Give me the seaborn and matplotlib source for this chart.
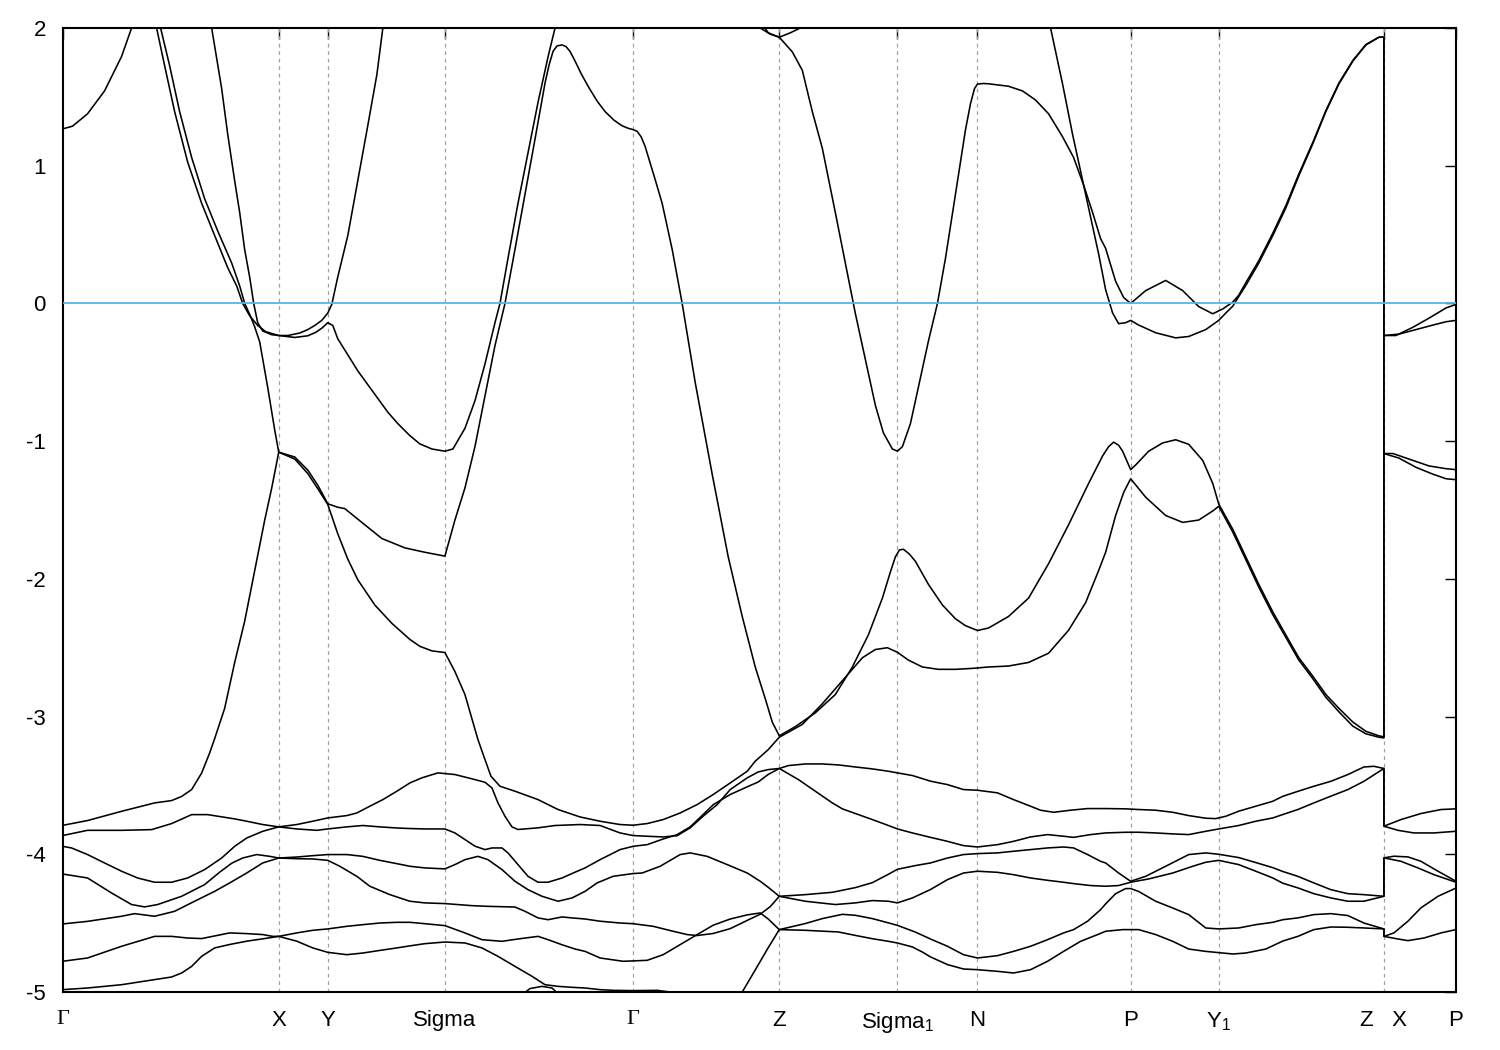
import matplotlib
matplotlib.use("Agg")
import matplotlib.pyplot as plt
import seaborn as sns
import numpy as np
import pandas as pd

# high-symmetry points along the k-path (path distance, arbitrary units)
k_ticks = [63, 279, 328, 445, 633, 779, 897, 977, 1130, 1218, 1383, 1455]
k_labels = ["Γ", "X", "Y", "Sigma", "Γ", "Z", "Sigma$_1$", "N", "P", "Y$_1$", "Z   X", "P"]
e_ticks = [2, 1, 0, -1, -2, -3, -4, -5]
e_fermi = 0.0

# bands: (k, E) pairs, E in eV
band_01 = [(63, 1.267), (73, 1.287), (88, 1.377), (105, 1.543), (122, 1.793), (132, 2.0), (144, 2.25),
           (157, 2.0), (165, 1.727), (175, 1.393), (188, 1.027), (202, 0.727), (215, 0.493), (228, 0.26),
           (237, 0.127), (243, 0.0), (250, -0.09), (258, -0.16), (266, -0.205), (279, -0.233), (288, -0.233),
           (300, -0.215), (308, -0.19), (315, -0.16), (322, -0.123), (328, -0.07), (332, -0.007), (338, 0.193),
           (348, 0.493), (358, 0.893), (368, 1.293), (377, 1.66), (383, 2.0), (386, 2.15)]

band_02 = [(161, 2.0), (170, 1.727), (180, 1.393), (192, 1.06), (205, 0.76), (218, 0.527), (232, 0.293),
           (240, 0.127), (245, 0.0), (250, -0.08), (255, -0.17), (260, -0.28), (268, -0.61), (275, -0.92),
           (279, -1.08), (295, -1.115), (308, -1.21), (318, -1.32), (328, -1.455), (338, -1.48), (345, -1.49),
           (362, -1.59), (382, -1.707), (405, -1.775), (425, -1.807), (445, -1.835), (455, -1.573), (465, -1.34),
           (475, -1.04), (485, -0.673), (495, -0.307), (505, 0.0), (515, 0.393), (525, 0.793), (535, 1.193),
           (545, 1.6), (549, 1.73), (553, 1.83), (557, 1.87), (562, 1.877), (566, 1.865), (570, 1.83),
           (575, 1.76), (581, 1.67), (588, 1.577), (597, 1.47), (605, 1.393), (614, 1.33), (622, 1.29),
           (628, 1.272), (633, 1.262), (637, 1.25), (641, 1.21), (645, 1.14), (650, 1.02), (655, 0.9),
           (662, 0.727), (672, 0.393), (682, 0.0), (695, -0.573), (712, -1.24), (728, -1.84), (742, -2.273),
           (755, -2.64), (765, -2.87), (772, -3.04), (779, -3.14), (795, -3.073),
           (815, -2.973), (835, -2.84), (852, -2.64), (868, -2.407), (882, -2.14), (890, -1.95), (895, -1.84),
           (899, -1.79), (903, -1.785), (909, -1.82), (915, -1.873), (928, -2.04), (942, -2.19), (955, -2.29),
           (965, -2.34), (977, -2.375), (988, -2.357), (1008, -2.273), (1028, -2.14), (1048, -1.89),
           (1068, -1.607), (1088, -1.307), (1102, -1.107), (1108, -1.04), (1113, -1.007), (1118, -1.03),
           (1122, -1.073), (1130, -1.207), (1135, -1.173), (1148, -1.073), (1162, -1.013), (1175, -0.99),
           (1188, -1.023), (1202, -1.14), (1212, -1.307), (1218, -1.457), (1232, -1.64), (1245, -1.84),
           (1258, -2.04), (1272, -2.24), (1285, -2.407), (1298, -2.573), (1312, -2.707), (1325, -2.84),
           (1338, -2.94), (1352, -3.04), (1365, -3.107), (1378, -3.14), (1383, -3.147),
           (1383, -0.233), (1398, -0.223), (1415, -0.19), (1432, -0.157), (1445, -0.133), (1455, -0.123)]

band_03 = [(63, -3.79), (88, -3.755), (122, -3.688), (155, -3.627), (172, -3.61), (182, -3.58), (192, -3.53),
           (202, -3.41), (210, -3.264), (215, -3.16), (225, -2.94), (235, -2.607), (245, -2.307), (255, -1.94),
           (265, -1.573), (272, -1.34), (279, -1.08), (295, -1.13), (308, -1.235), (318, -1.345), (328, -1.46),
           (338, -1.673), (348, -1.857), (358, -2.007), (375, -2.19), (392, -2.323), (410, -2.44), (420, -2.49),
           (432, -2.523), (445, -2.535), (455, -2.673), (465, -2.84), (478, -3.167), (485, -3.312),
           (491, -3.433), (500, -3.506), (515, -3.542), (538, -3.603), (558, -3.675), (580, -3.729),
           (600, -3.76), (620, -3.784), (633, -3.789), (647, -3.777), (663, -3.748), (680, -3.7), (697, -3.639),
           (713, -3.566), (730, -3.482), (747, -3.397), (755, -3.324), (768, -3.24), (779, -3.15),
           (802, -3.057), (822, -2.907), (842, -2.74), (862, -2.573), (875, -2.513), (887, -2.5), (897, -2.533),
           (908, -2.59), (922, -2.64), (938, -2.657), (955, -2.657), (972, -2.65), (988, -2.64), (1008, -2.633),
           (1028, -2.607), (1048, -2.54), (1068, -2.373), (1085, -2.173), (1098, -1.94), (1105, -1.807),
           (1115, -1.54), (1123, -1.373), (1130, -1.273), (1145, -1.407), (1165, -1.54), (1182, -1.59),
           (1198, -1.573), (1212, -1.507), (1218, -1.473), (1232, -1.66), (1245, -1.86), (1258, -2.06),
           (1272, -2.26), (1285, -2.425), (1298, -2.59), (1312, -2.725), (1325, -2.86), (1338, -2.965),
           (1352, -3.07), (1365, -3.125), (1378, -3.15), (1383, -3.155),
           (1383, -1.09), (1398, -1.123), (1415, -1.19), (1432, -1.24), (1445, -1.273), (1455, -1.28)]

band_04 = [(211, 2.05), (212, 2.0), (222, 1.56), (228, 1.23), (235, 0.89), (240, 0.66), (245, 0.39), (250, 0.19),
           (254, 0.0), (258, -0.14), (263, -0.2), (272, -0.227), (279, -0.233), (295, -0.247), (308, -0.235),
           (316, -0.21), (322, -0.18), (328, -0.14), (333, -0.16), (338, -0.257), (348, -0.373), (358, -0.49),
           (368, -0.59), (378, -0.69), (388, -0.79), (398, -0.873), (410, -0.96), (420, -1.02), (432, -1.057),
           (445, -1.073), (453, -1.057), (465, -0.907), (475, -0.707), (485, -0.44), (495, -0.14), (500, 0.0),
           (508, 0.327), (518, 0.727), (528, 1.093), (538, 1.46), (548, 1.79), (555, 2.0), (558, 2.12)]

band_05 = [(750, 2.15), (760, 2.0), (770, 1.955), (779, 1.933), (792, 1.827), (802, 1.693), (812, 1.393),
           (822, 1.127), (835, 0.66), (845, 0.293), (855, -0.073), (865, -0.407), (875, -0.74), (883, -0.94),
           (892, -1.057), (897, -1.073), (902, -1.04), (910, -0.873), (918, -0.607), (928, -0.273), (937, 0.0),
           (945, 0.327), (955, 0.793), (965, 1.26), (970, 1.45), (974, 1.56), (977, 1.593), (983, 1.597),
           (988, 1.595), (1008, 1.577),
           (1022, 1.543), (1035, 1.477), (1048, 1.377), (1062, 1.21), (1073, 1.06), (1083, 0.86), (1092, 0.66),
           (1100, 0.47), (1105, 0.4), (1110, 0.28), (1115, 0.16), (1123, 0.043), (1130, 0.0), (1145, 0.093),
           (1165, 0.167), (1182, 0.093), (1198, -0.023), (1212, -0.075), (1222, -0.04), (1232, 0.01),
           (1238, 0.06), (1245, 0.15), (1258, 0.31), (1272, 0.51), (1285, 0.71), (1298, 0.94), (1312, 1.17),
           (1325, 1.40), (1338, 1.60), (1352, 1.765), (1365, 1.88), (1378, 1.933), (1383, 1.935),
           (1383, -0.233), (1395, -0.233), (1412, -0.173), (1428, -0.107), (1445, -0.033), (1455, -0.007)]

band_06 = [(755, 2.1), (768, 1.965), (779, 1.933), (790, 1.965), (800, 2.0), (810, 2.12), (1040, 2.12),
           (1050, 2.0), (1062, 1.593), (1072, 1.227), (1078, 1.027), (1088, 0.693), (1098, 0.36), (1105, 0.1),
           (1112, -0.07), (1118, -0.147), (1125, -0.14), (1130, -0.123), (1138, -0.157), (1155, -0.213),
           (1175, -0.25), (1188, -0.24), (1205, -0.19), (1218, -0.123), (1225, -0.07), (1232, -0.02),
           (1238, 0.05), (1245, 0.13), (1258, 0.293), (1272, 0.493), (1285, 0.693), (1298, 0.927), (1312, 1.16),
           (1325, 1.393), (1338, 1.593), (1352, 1.76), (1365, 1.877), (1378, 1.933), (1383, 1.933),
           (1383, -1.09), (1392, -1.09), (1412, -1.14), (1428, -1.18), (1445, -1.2), (1455, -1.207)]

band_07 = [(63, -3.864), (88, -3.826), (122, -3.826), (152, -3.821), (172, -3.777), (192, -3.712), (208, -3.712),
           (235, -3.743), (247, -3.76), (263, -3.784), (279, -3.801), (297, -3.784), (313, -3.76), (328, -3.736),
           (347, -3.719), (357, -3.7), (370, -3.651), (383, -3.603), (397, -3.542), (410, -3.482), (422, -3.445),
           (438, -3.409), (455, -3.421), (472, -3.452), (485, -3.477), (492, -3.518), (498, -3.627),
           (505, -3.724), (512, -3.801), (518, -3.82), (538, -3.808), (555, -3.791), (580, -3.784),
           (600, -3.791), (620, -3.845), (633, -3.864), (647, -3.869), (663, -3.874), (677, -3.865),
           (690, -3.808), (703, -3.723), (717, -3.639), (730, -3.53), (747, -3.445), (758, -3.402),
           (768, -3.385), (779, -3.377), (788, -3.356), (805, -3.344), (822, -3.344), (838, -3.351),
           (855, -3.366), (872, -3.38), (888, -3.397), (897, -3.409), (912, -3.428), (930, -3.469),
           (947, -3.494), (963, -3.53), (977, -3.535), (997, -3.554), (1013, -3.603), (1030, -3.651),
           (1040, -3.68), (1053, -3.695), (1070, -3.68), (1087, -3.668), (1105, -3.668), (1125, -3.67),
           (1138, -3.675), (1155, -3.68), (1172, -3.695), (1188, -3.719), (1205, -3.738), (1215, -3.741),
           (1225, -3.724), (1238, -3.687), (1255, -3.651), (1272, -3.615), (1282, -3.579), (1297, -3.543),
           (1313, -3.506), (1330, -3.47), (1347, -3.421), (1363, -3.366), (1373, -3.361), (1383, -3.377),
           (1383, -3.796), (1400, -3.748), (1420, -3.704), (1440, -3.675), (1455, -3.67)]

band_08 = [(63, -3.942), (72, -3.954), (88, -4.002), (105, -4.063), (122, -4.123), (138, -4.172), (155, -4.203),
           (172, -4.203), (188, -4.172), (205, -4.111), (222, -4.027), (235, -3.942), (247, -3.882),
           (263, -3.833), (279, -3.801), (297, -3.816), (317, -3.826), (328, -3.816), (347, -3.801),
           (363, -3.791), (380, -3.801), (397, -3.809), (410, -3.813), (425, -3.816), (445, -3.816),
           (455, -3.845), (465, -3.893), (475, -3.941), (485, -3.966), (492, -3.954), (502, -3.954),
           (508, -3.99), (518, -4.075), (528, -4.16), (538, -4.203), (548, -4.203), (562, -4.172), (575, -4.13),
           (585, -4.099), (600, -4.039), (620, -3.966), (633, -3.942), (647, -3.93), (663, -3.889),
           (677, -3.857), (690, -3.801), (703, -3.711), (713, -3.64), (730, -3.566), (747, -3.51),
           (758, -3.475), (768, -3.42), (779, -3.377), (798, -3.457), (815, -3.542), (832, -3.627), (842, -3.67),
           (855, -3.704), (872, -3.748), (888, -3.791), (897, -3.816), (912, -3.845), (930, -3.877),
           (947, -3.906), (963, -3.937), (977, -3.947), (997, -3.93), (1013, -3.906), (1030, -3.874),
           (1047, -3.857), (1063, -3.869), (1073, -3.877), (1090, -3.857), (1105, -3.845), (1125, -3.84),
           (1138, -3.84), (1155, -3.845), (1172, -3.852), (1188, -3.857), (1205, -3.833), (1218, -3.816),
           (1238, -3.791), (1255, -3.76), (1272, -3.736), (1285, -3.704), (1297, -3.675), (1313, -3.627),
           (1330, -3.578), (1347, -3.53), (1363, -3.47), (1383, -3.377),
           (1383, -3.796), (1397, -3.826), (1413, -3.845), (1433, -3.845), (1455, -3.833)]

band_09 = [(63, -4.143), (88, -4.172), (112, -4.281), (132, -4.365), (145, -4.382), (158, -4.365), (182, -4.305),
           (205, -4.22), (220, -4.13), (232, -4.065), (243, -4.027), (257, -4.002), (270, -4.015), (279, -4.027),
           (297, -4.02), (313, -4.01), (328, -4.002), (347, -4.002), (363, -4.015), (380, -4.044), (397, -4.068),
           (410, -4.087), (425, -4.099), (445, -4.106), (455, -4.075), (465, -4.039), (478, -4.015),
           (488, -4.039), (502, -4.111), (515, -4.196), (528, -4.257), (542, -4.305), (558, -4.341),
           (572, -4.317), (585, -4.269), (597, -4.208), (613, -4.16), (633, -4.14), (642, -4.136), (660, -4.087),
           (680, -4.002), (690, -3.99), (707, -4.015), (727, -4.075), (747, -4.136), (760, -4.196), (768, -4.24),
           (779, -4.305), (805, -4.293), (832, -4.276), (855, -4.242), (872, -4.206), (888, -4.145),
           (897, -4.109), (915, -4.082), (930, -4.063), (947, -4.027), (963, -4.002), (977, -3.995),
           (997, -3.99), (1013, -3.978), (1030, -3.966), (1047, -3.954), (1063, -3.947), (1073, -3.954),
           (1087, -4.002), (1100, -4.051), (1105, -4.063), (1118, -4.136), (1130, -4.196), (1145, -4.16),
           (1165, -4.087), (1188, -4.002), (1205, -3.99), (1218, -4.0), (1238, -4.024), (1255, -4.06),
           (1272, -4.097), (1282, -4.125), (1297, -4.16), (1313, -4.208), (1330, -4.257), (1347, -4.286),
           (1363, -4.293), (1383, -4.305),
           (1383, -4.026), (1393, -4.014), (1407, -4.019), (1420, -4.051), (1437, -4.123), (1455, -4.196)]

band_10 = [(63, -4.506), (88, -4.487), (122, -4.45), (135, -4.431), (155, -4.45), (175, -4.414), (195, -4.341),
           (215, -4.269), (230, -4.208), (247, -4.136), (263, -4.063), (279, -4.027), (297, -4.032),
           (313, -4.034), (328, -4.044), (340, -4.087), (357, -4.16), (370, -4.232), (390, -4.293),
           (410, -4.341), (425, -4.353), (445, -4.358), (472, -4.373), (488, -4.378), (515, -4.383),
           (525, -4.414), (538, -4.462), (548, -4.475), (562, -4.455), (572, -4.462), (585, -4.47), (600, -4.486),
           (620, -4.499), (633, -4.504), (653, -4.523), (673, -4.559), (687, -4.583), (697, -4.59),
           (713, -4.575), (730, -4.54), (747, -4.48), (760, -4.435), (770, -4.38), (779, -4.305), (805, -4.341),
           (835, -4.365), (855, -4.353), (872, -4.336), (888, -4.341), (897, -4.353), (912, -4.317),
           (930, -4.256), (947, -4.184), (963, -4.136), (977, -4.123), (997, -4.131), (1013, -4.148),
           (1030, -4.172), (1047, -4.189), (1063, -4.203), (1073, -4.213), (1090, -4.227), (1105, -4.232),
           (1118, -4.227), (1130, -4.203), (1148, -4.179), (1172, -4.136), (1192, -4.087), (1205, -4.058),
           (1218, -4.044), (1238, -4.075), (1255, -4.123), (1272, -4.172), (1282, -4.21), (1297, -4.244),
           (1313, -4.286), (1330, -4.317), (1347, -4.341), (1363, -4.341), (1383, -4.305),
           (1383, -4.026), (1400, -4.051), (1417, -4.099), (1433, -4.148), (1455, -4.203)]

band_11 = [(63, -4.777), (88, -4.753), (122, -4.668), (155, -4.596), (172, -4.596), (188, -4.608), (202, -4.612),
           (230, -4.571), (247, -4.576), (263, -4.583), (273, -4.596), (279, -4.596), (297, -4.571),
           (313, -4.552), (328, -4.542), (347, -4.523), (363, -4.511), (380, -4.499), (397, -4.494),
           (410, -4.494), (425, -4.504), (445, -4.518), (465, -4.571), (482, -4.62), (502, -4.632),
           (518, -4.615), (538, -4.596), (548, -4.62), (562, -4.657), (575, -4.688), (585, -4.705), (600, -4.753),
           (623, -4.777), (647, -4.77), (663, -4.729), (680, -4.656), (697, -4.583), (713, -4.515), (730, -4.47),
           (747, -4.44), (760, -4.426), (768, -4.47), (779, -4.547), (805, -4.503), (822, -4.467), (842, -4.436),
           (855, -4.443), (872, -4.467), (888, -4.498), (897, -4.516), (915, -4.565), (930, -4.615),
           (947, -4.668), (963, -4.729), (977, -4.753), (997, -4.736), (1013, -4.705), (1030, -4.668),
           (1047, -4.62), (1063, -4.571), (1073, -4.547), (1087, -4.486), (1100, -4.402), (1105, -4.36),
           (1115, -4.286), (1125, -4.249), (1130, -4.249), (1138, -4.27), (1155, -4.341), (1172, -4.39),
           (1188, -4.438), (1205, -4.535), (1218, -4.542), (1238, -4.535), (1255, -4.511), (1272, -4.494),
           (1282, -4.475), (1297, -4.462), (1313, -4.438), (1330, -4.431), (1347, -4.445), (1363, -4.499),
           (1383, -4.542),
           (1383, -4.596), (1393, -4.571), (1407, -4.486), (1420, -4.389), (1437, -4.305), (1455, -4.245)]

band_12 = [(728, -5.15), (742, -5.0), (755, -4.84), (767, -4.69), (779, -4.547), (805, -4.552), (838, -4.564),
           (855, -4.589), (872, -4.613), (888, -4.632), (897, -4.644), (912, -4.673), (922, -4.71), (930, -4.745),
           (947, -4.801), (963, -4.833), (977, -4.838), (997, -4.85), (1013, -4.862), (1030, -4.838),
           (1047, -4.777), (1063, -4.705), (1080, -4.632), (1097, -4.583), (1105, -4.559), (1122, -4.547),
           (1138, -4.547), (1155, -4.583), (1172, -4.632), (1188, -4.688), (1205, -4.705), (1232, -4.724),
           (1245, -4.717), (1265, -4.688), (1282, -4.63), (1297, -4.596), (1313, -4.547), (1330, -4.528),
           (1347, -4.53), (1363, -4.535), (1383, -4.542),
           (1383, -4.596), (1397, -4.615), (1407, -4.627), (1423, -4.608), (1440, -4.571), (1455, -4.547)]

band_13 = [(63, -4.983), (88, -4.971), (122, -4.947), (155, -4.91), (172, -4.891), (182, -4.862), (192, -4.814),
           (202, -4.741), (215, -4.68), (230, -4.655), (247, -4.631), (263, -4.614), (279, -4.596), (297, -4.631),
           (313, -4.68), (328, -4.712), (347, -4.729), (363, -4.717), (380, -4.698), (397, -4.68), (410, -4.665),
           (425, -4.649), (445, -4.637), (465, -4.644), (482, -4.68), (498, -4.741), (515, -4.814),
           (532, -4.886), (545, -4.947), (558, -4.959), (572, -4.966), (585, -4.971), (600, -4.983),
           (613, -4.988), (633, -4.99), (657, -4.988), (670, -5.0), (680, -5.05)]

band_14 = [(515, -5.06), (530, -4.975), (542, -4.959), (552, -4.971), (565, -5.06)]

bands = [band_01, band_02, band_03, band_04, band_05, band_06, band_07,
         band_08, band_09, band_10, band_11, band_12, band_13, band_14]

rows = []
for i, b in enumerate(bands):
    for j, (k, e) in enumerate(b):
        rows.append((i, j, k, e))
df = pd.DataFrame(rows, columns=["band", "order", "k", "E"])

sns.set_theme(style="white")
plt.rcParams["font.family"] = ["Liberation Sans", "DejaVu Sans"]
plt.rcParams["mathtext.fontset"] = "custom"
plt.rcParams["mathtext.rm"] = "Liberation Sans"
plt.rcParams["mathtext.it"] = "Liberation Sans"
plt.rcParams["axes.unicode_minus"] = False

fig = plt.figure(figsize=(15, 10.5), dpi=100)
ax = fig.add_axes([62.5 / 1500, 58 / 1050, 1393.5 / 1500, 964 / 1050])

# dashed guides at the high-symmetry points
for k in k_ticks[1:-1]:
    ax.axvline(k, color="#a0a0a0", lw=0.9, ls=(0, (3, 3)), zorder=1)

sns.lineplot(data=df, x="k", y="E", units="band", estimator=None, sort=False,
             color="black", lw=1.15, ax=ax, legend=False, zorder=2)

ax.axhline(e_fermi, color="#56b4e9", lw=1.3, zorder=3)

ax.set_xlim(k_ticks[0], k_ticks[-1])
ax.set_ylim(-5, 2)
ax.set_xticks(k_ticks)
ax.set_xticklabels(k_labels)
ax.set_yticks(e_ticks)
ax.set_yticklabels([str(v) for v in e_ticks])
ax.set_xlabel("")
ax.set_ylabel("")
for lbl in ax.get_xticklabels():
    if lbl.get_text() == "Γ":
        lbl.set_family(["Liberation Serif", "DejaVu Serif"])

ax.tick_params(direction="in", length=8, width=1.0, top=True, right=True,
               labelsize=16, colors="black")
ax.tick_params(axis="x", pad=13)
ax.tick_params(axis="y", pad=12)
for s in ax.spines.values():
    s.set_color("black")
    s.set_linewidth(1.5)

fig.savefig("out.png", dpi=100)
